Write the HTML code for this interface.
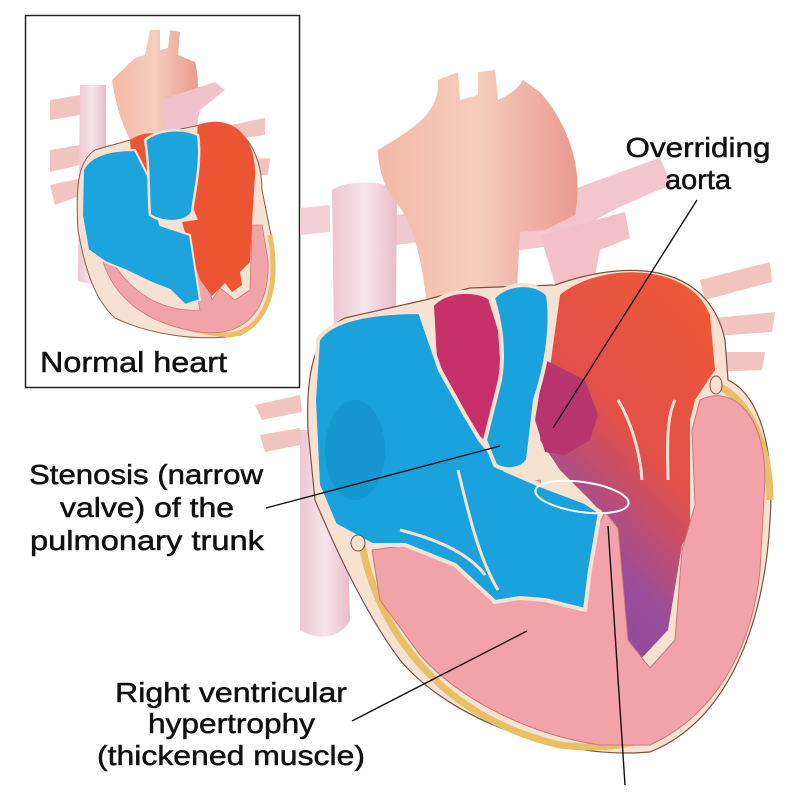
<!DOCTYPE html>
<html><head><meta charset="utf-8"><style>
html,body{margin:0;padding:0;background:#fff;}
svg{display:block;}
text{font-family:"Liberation Sans",sans-serif;fill:#111;font-size:28px;stroke:#111;stroke-width:0.5;}
</style></head><body>
<svg width="800" height="792" viewBox="0 0 800 792" xmlns="http://www.w3.org/2000/svg">
<defs>
<linearGradient id="lv" x1="0.8" y1="0" x2="0.3" y2="1">
<stop offset="0" stop-color="#ee5836"/><stop offset="0.45" stop-color="#e2504a"/><stop offset="0.75" stop-color="#9a4d9a"/><stop offset="1" stop-color="#8a4a9a"/></linearGradient>
<linearGradient id="ves" x1="0" y1="0" x2="1" y2="0">
<stop offset="0" stop-color="#ecc6d0"/><stop offset="0.5" stop-color="#f7e4ea"/><stop offset="1" stop-color="#e8bcc8"/></linearGradient>
<linearGradient id="ao" x1="0" y1="0" x2="1" y2="0">
<stop offset="0" stop-color="#f2b9a6"/><stop offset="0.5" stop-color="#f6cdbd"/><stop offset="1" stop-color="#e99a8e"/></linearGradient>
</defs>

<!-- ===== INSET ===== -->
<rect x="25.5" y="15.5" width="274" height="372" fill="#fff" stroke="#222" stroke-width="1.5"/>
<path d="M50,100 L80,95 L80,115 L50,120Z M50,150 L80,145 L80,165 L50,172Z M50,185 L82,178 L82,195 L55,205Z" fill="#f1c4c0"/>
<path d="M230,125 L265,118 L265,135 L230,140Z M235,160 L270,158 L268,175 L235,175Z" fill="#f1c4c0"/>
<path d="M80,85 L106,85 L106,280 C100,285 85,285 78,280Z" fill="url(#ves)"/>
<path d="M112,80 L135,58 L145,55 L150,30 L160,30 L160,50 L168,48 L170,30 L180,32 L178,55 L195,62 C200,80 198,110 195,135 L170,140 L130,140 C120,120 115,100 112,80Z" fill="url(#ao)"/>
<path d="M160,100 L215,82 L225,90 L200,110 L195,135 L165,135Z" fill="#f0c3cb"/>
<path d="M78,230 C75,180 80,160 95,150 L130,140 L200,125 C240,115 262,150 262,190 L270,230 C282,280 272,320 240,335 C200,342 150,335 115,318 C95,300 85,270 78,230Z" fill="#f7e1d3" stroke="#8a5a48" stroke-width="1"/>
<path d="M110,252 C120,300 160,330 230,335 C265,330 280,290 270,235" fill="none" stroke="#e9c068" stroke-width="5"/>
<path d="M198,125 C235,112 256,140 255,175 L252,222 L200,225 L190,200 Z" fill="#ec5533"/>
<path d="M130,140 C145,130 160,132 168,140 L170,185 L150,185 L132,165Z" fill="#ec5533"/>
<path d="M100,250 C110,300 150,325 200,332 C245,338 270,310 268,260 L262,225 L252,225 L250,290 L235,300 L220,288 L212,300 L200,245 L185,230 L200,310 C170,312 140,300 118,270 Z" fill="#f1a4a8" stroke="#c9787c" stroke-width="0.8"/>
<path d="M182,222 L230,215 L252,222 L250,262 L240,272 L242,285 L232,292 L225,283 L212,296 L200,280 L190,250Z" fill="#ec5533"/>
<path d="M83,170 C90,155 110,150 135,150 L150,180 L160,225 L175,230 L190,235 L200,300 L185,305 L170,290 L150,282 L125,270 L105,262 L88,250 L82,215Z" fill="#1ea4dc" stroke="#f7e1d3" stroke-width="2"/>
<path d="M145,140 C160,128 185,128 198,135 C202,160 195,190 192,212 C188,222 165,225 150,215 C148,195 150,170 145,140Z" fill="#1ea4dc" stroke="#f7e1d3" stroke-width="2.5"/>
<text x="40" y="372" style="font-size:29px" textLength="187" lengthAdjust="spacingAndGlyphs">Normal heart</text>

<!-- ===== MAIN HEART ===== -->
<path d="M255,405 L300,395 L302,412 L262,420Z M260,435 L300,428 L300,445 L265,452Z" fill="#f1c4c0"/>
<path d="M300,208 L330,205 L330,232 L300,235Z" fill="#f1d0d8"/>
<path d="M395,215 L420,212 L420,242 L395,245Z" fill="#f0c8d0"/>
<path d="M700,280 L770,262 L772,282 L705,300Z M715,318 L775,312 L772,332 L715,336Z M710,352 L765,352 L762,370 L710,372Z" fill="#f1c4c0"/>
<path d="M332,190 C345,180 385,180 397,190 L395,420 L335,420Z" fill="url(#ves)"/>
<path d="M300,430 L345,430 L350,620 C340,640 315,640 300,630 Z" fill="url(#ves)"/>
<path d="M505,215 C560,195 610,175 660,158 L672,185 C620,205 590,220 560,245 L520,250Z" fill="#f3c6cf"/>
<path d="M540,235 L625,212 L630,238 L600,250 L590,300 L560,300Z" fill="#f3c0ca"/>
<path d="M378,150 C410,130 440,115 438,80 L458,72 L460,100 L478,95 L478,72 L495,70 L498,100 C515,92 520,85 523,80 L540,92 C565,120 585,165 575,215 L545,230 L520,232 L515,330 L430,335 C425,280 418,230 398,205 C385,190 378,170 378,150Z" fill="url(#ao)"/>
<path d="M308,430 C305,360 320,330 345,318 L425,300 L470,288 L555,285 C640,255 710,270 725,340 L728,380 C760,395 775,450 770,520 C765,620 730,720 650,752 C560,760 450,720 400,660 C370,620 340,560 315,500Z" fill="#f7e2d2" stroke="#7a5242" stroke-width="1.2"/>
<path d="M362,545 C380,640 450,720 560,745 C640,755 690,730 730,660" fill="none" stroke="#e8bf66" stroke-width="7"/>
<path d="M715,385 C745,395 770,440 770,500" fill="none" stroke="#e8bf66" stroke-width="7"/>
<path d="M560,295 C600,262 690,262 710,315 L715,370 L695,400 L690,420 L690,530 L682,545 L668,630 L640,660 L620,645 L608,520 L590,500 L560,470 L540,440 Z" fill="url(#lv)"/>
<path d="M432,305 C445,290 475,288 490,298 L500,330 L505,400 L490,448 L470,430 L450,400 L435,360 Z" fill="#c8306a" stroke="#f7e2d2" stroke-width="4"/>
<path d="M545,360 L585,380 L598,415 L590,440 L565,455 L545,452 L535,420Z" fill="#b8346e"/>
<path d="M700,400 C730,385 765,410 765,480 L760,570 C752,650 715,715 650,745 L600,745 C530,735 460,700 420,655 L380,600 L372,550 L410,545 C455,555 480,570 500,590 L540,595 L585,612 L592,540 L605,512 L618,528 L628,640 L650,668 L675,640 L682,550 L695,505 L692,430 Z" fill="#f2a3a9" stroke="#c8767c" stroke-width="1"/>
<path d="M470,440 L495,440 L490,470 L475,475Z M515,485 L540,480 L545,500 L520,500Z" fill="#f2a3a9" stroke="#c8767c" stroke-width="0.8"/>
<path d="M318,340 C330,320 370,312 420,312 L440,370 L465,415 L480,440 L505,470 L540,485 L585,502 L600,512 L590,570 L585,610 L545,600 L520,598 L495,602 L455,565 L405,545 L372,545 L335,525 L318,485 L314,400Z" fill="#1aa2dc" stroke="#f7e2d2" stroke-width="4"/>
<ellipse cx="355" cy="450" rx="30" ry="50" fill="#1490c8" opacity="0.6"/>
<path d="M493,298 C505,283 535,280 548,295 C553,330 545,370 535,400 L528,460 C522,470 505,472 495,465 L485,440 L500,380 C505,350 500,320 493,298Z" fill="#1aa2dc" stroke="#f7e2d2" stroke-width="4"/>
<path d="M458,470 C470,520 480,560 498,590" fill="none" stroke="#f7e2d2" stroke-width="3"/>
<path d="M400,530 C440,540 470,555 485,575" fill="none" stroke="#f7e2d2" stroke-width="3"/>
<path d="M618,400 C630,420 640,450 642,480" fill="none" stroke="#f7e2d2" stroke-width="3"/>
<path d="M675,400 C665,420 668,460 668,480" fill="none" stroke="#f7e2d2" stroke-width="3"/>
<ellipse cx="358" cy="543" rx="7" ry="8" fill="#f7e2d2" stroke="#7a5242" stroke-width="1"/>
<ellipse cx="716" cy="385" rx="6" ry="9" fill="#f7e2d2" stroke="#7a5242" stroke-width="1"/>

<ellipse cx="582" cy="497" rx="47" ry="15" transform="rotate(8 582 497)" fill="none" stroke="#fff" stroke-width="2"/>

<g stroke="#111" stroke-width="1.4">
<line x1="697" y1="200" x2="553" y2="428"/>
<line x1="266" y1="508" x2="500" y2="446"/>
<line x1="352" y1="721" x2="527" y2="631"/>
<line x1="608" y1="526" x2="625" y2="785"/>
</g>

<text x="698" y="157" text-anchor="middle" textLength="145" lengthAdjust="spacingAndGlyphs">Overriding</text>
<text x="698" y="189" text-anchor="middle" textLength="66" lengthAdjust="spacingAndGlyphs">aorta</text>
<text x="29" y="484" textLength="234" lengthAdjust="spacingAndGlyphs">Stenosis (narrow</text>
<text x="60" y="517" textLength="174" lengthAdjust="spacingAndGlyphs">valve) of the</text>
<text x="30" y="550" textLength="234" lengthAdjust="spacingAndGlyphs">pulmonary trunk</text>
<text x="115" y="702" textLength="232" lengthAdjust="spacingAndGlyphs">Right ventricular</text>
<text x="148" y="733" textLength="167" lengthAdjust="spacingAndGlyphs">hypertrophy</text>
<text x="97" y="765" textLength="268" lengthAdjust="spacingAndGlyphs">(thickened muscle)</text>
</svg>
</body></html>
